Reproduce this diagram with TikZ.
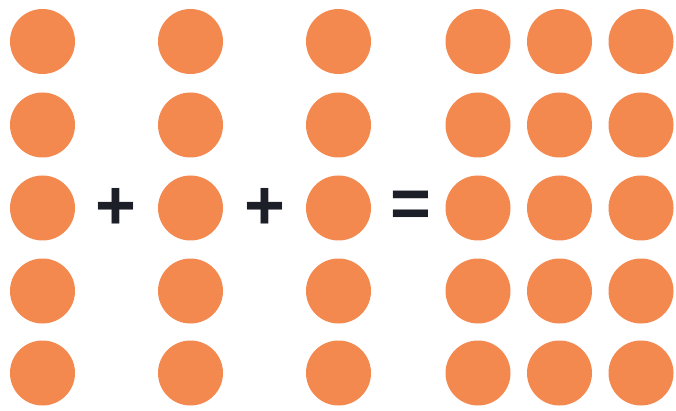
\documentclass[tikz,border=0pt]{standalone}
\usepackage{fontspec}
\setmainfont{Liberation Sans}
\definecolor{dotorange}{RGB}{244,137,80}
\definecolor{signdark}{RGB}{28,30,40}
\begin{document}
\begin{tikzpicture}[x=1pt,y=-1pt,
  dot/.style={circle,fill=dotorange,draw=none,minimum size=65pt,inner sep=0pt},
  sign/.style={text=signdark,font=\bfseries\fontsize{70}{70}\selectfont,inner sep=0pt}]
\useasboundingbox[fill=white] (0,0) rectangle (676,411);
% three single columns
\foreach \c/\x in {1/42.5,2/190.5,3/338.5}{
  \foreach \r/\y in {1/41.5,2/125,3/208,4/291,5/373}{
    \node[dot] (s\c\r) at (\x,\y) {};
  }
}
% result block
\foreach \c/\x in {1/478,2/559.5,3/641}{
  \foreach \r/\y in {1/41.5,2/125,3/208,4/291,5/373}{
    \node[dot] (b\c\r) at (\x,\y) {};
  }
}
\node[sign] (plusA) at (116,209) {+};
\node[sign] (plusB) at (265,209) {+};
\node[sign] (eq) at (411,209) {=};
\end{tikzpicture}
\end{document}
